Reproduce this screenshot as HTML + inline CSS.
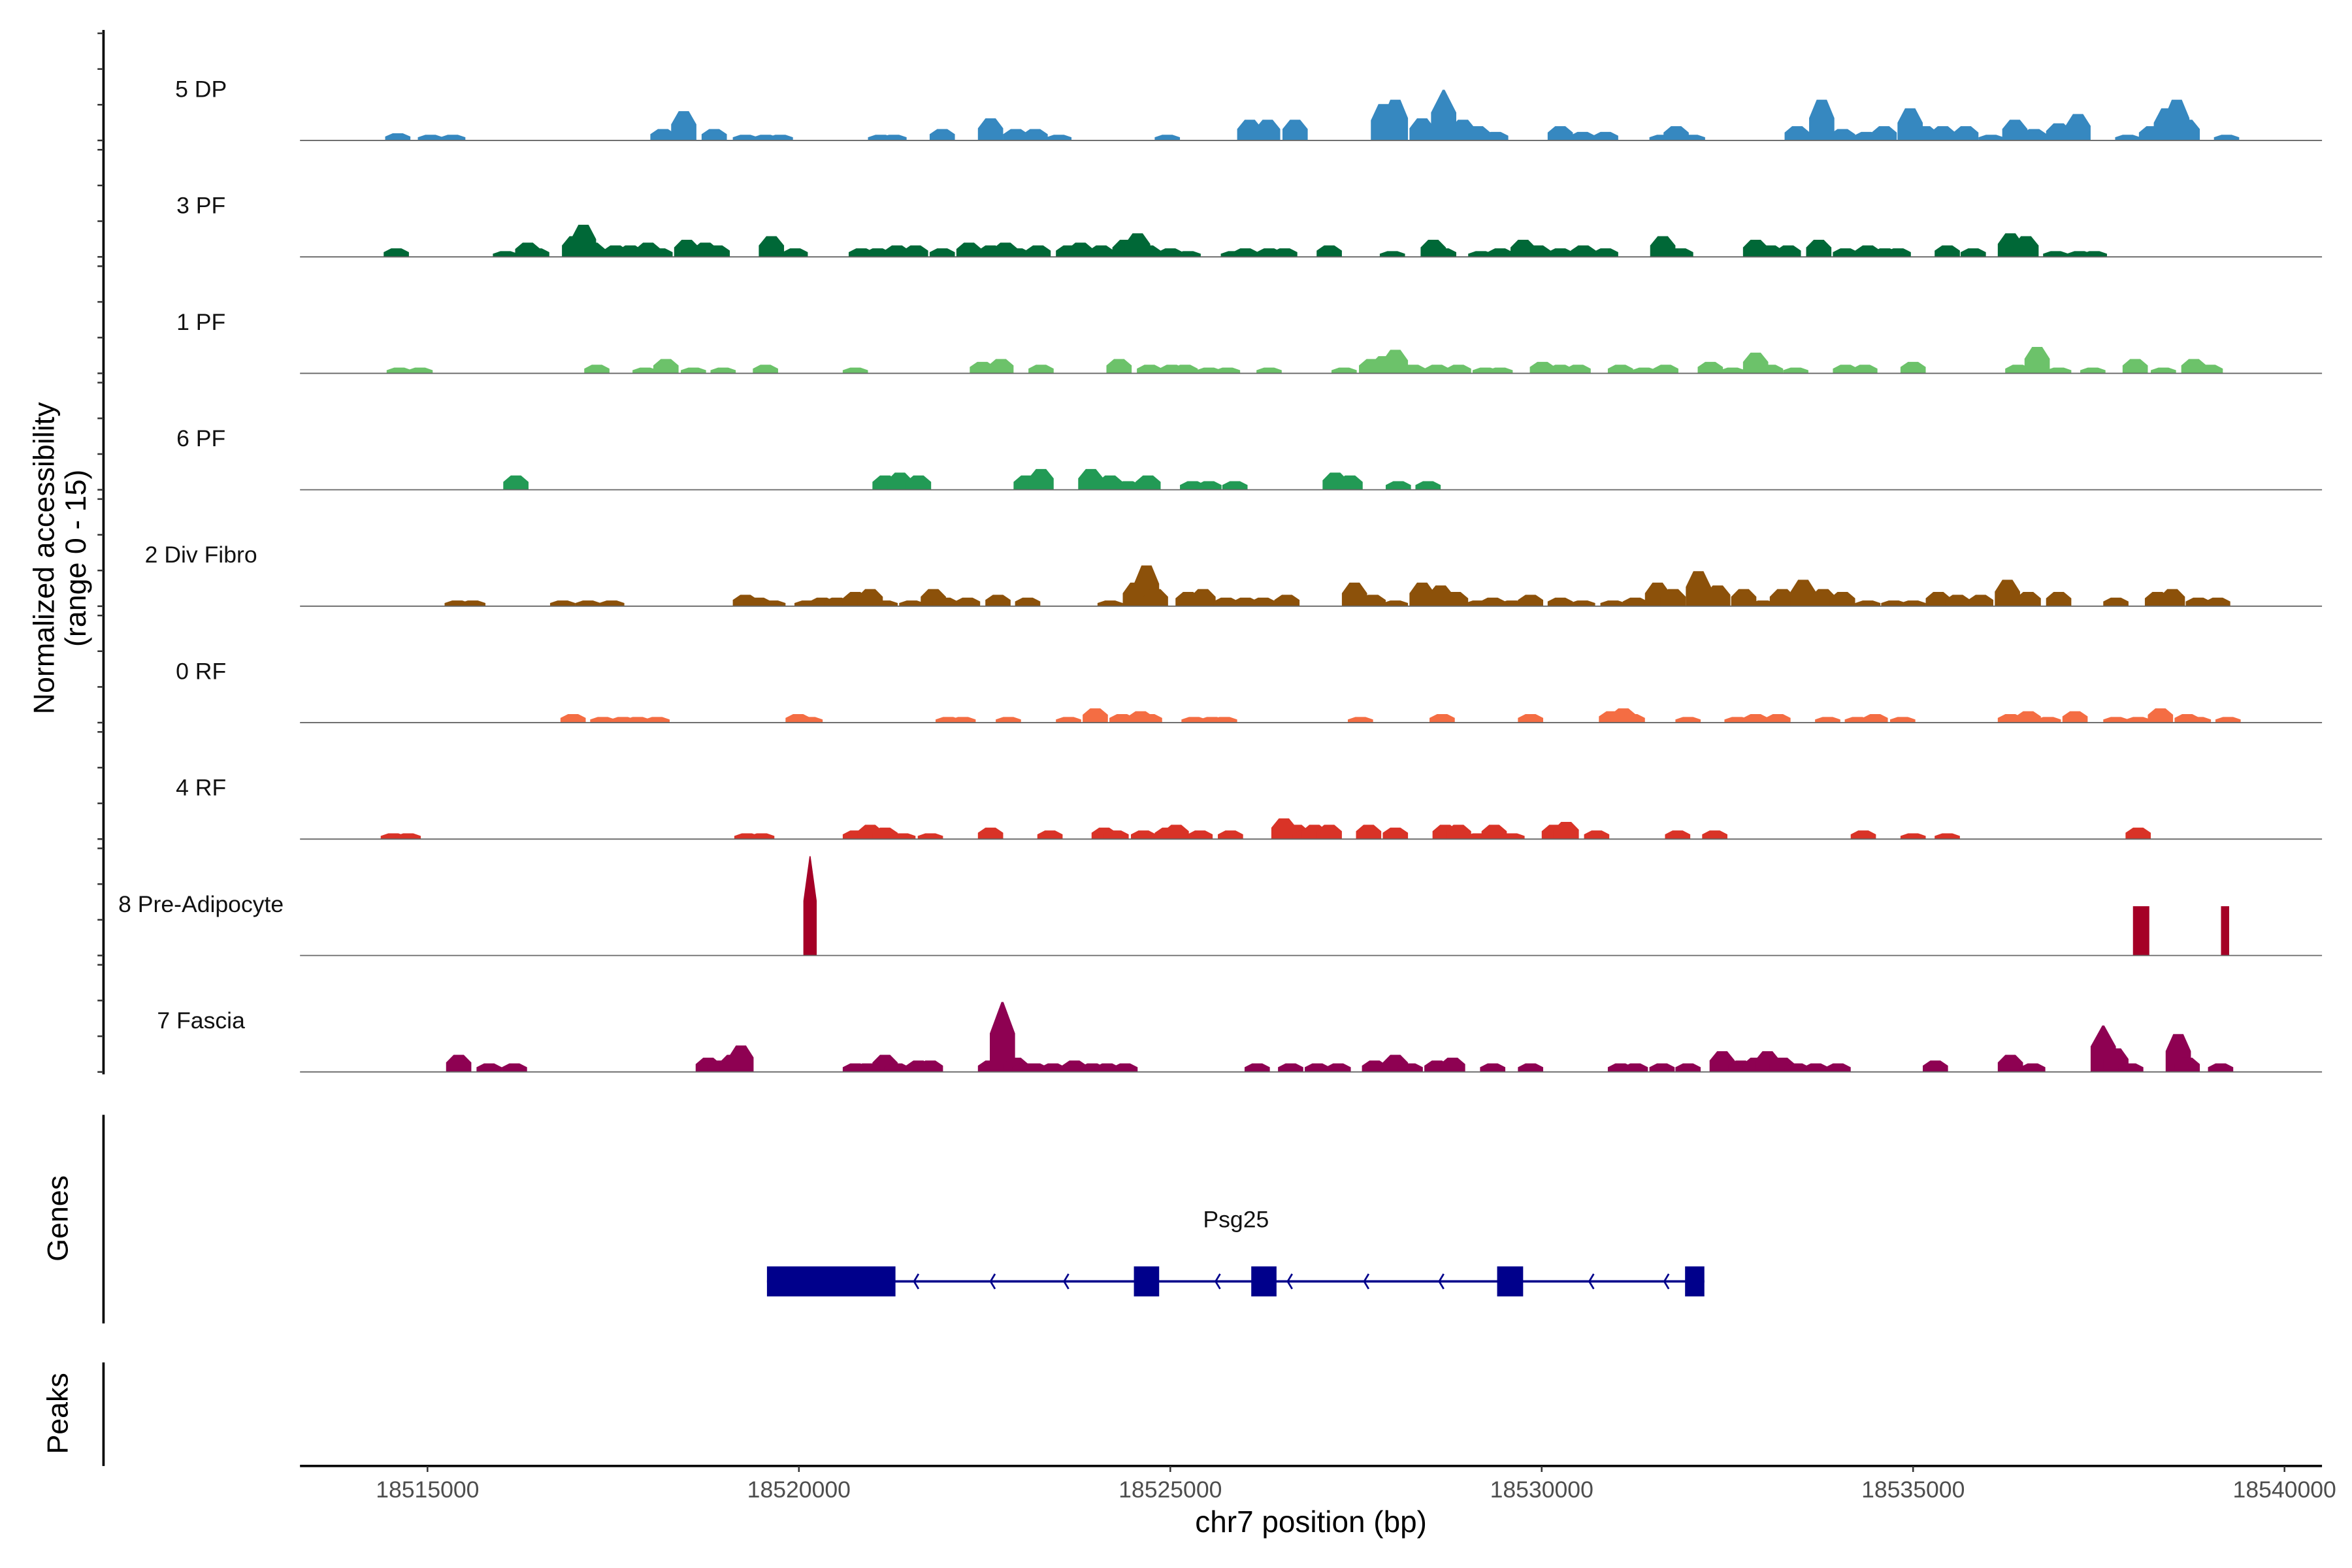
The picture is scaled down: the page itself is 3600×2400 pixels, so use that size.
<!DOCTYPE html>
<html><head><meta charset="utf-8"><style>
html,body{margin:0;padding:0;background:#fff;}
svg{display:block;font-family:"Liberation Sans",Arial,sans-serif;}
</style></head><body>
<svg id="chart" xmlns="http://www.w3.org/2000/svg" width="3600" height="2400" viewBox="0 0 1568 1045" preserveAspectRatio="none">
<g id="tracks"></g>
<g id="leftaxis"></g>
<text transform="translate(36,372) rotate(-90)" text-anchor="middle" font-size="19.5" fill="#000">Normalized accessibility</text>
<text transform="translate(57,372) rotate(-90)" text-anchor="middle" font-size="19.5" fill="#000">(range 0 - 15)</text>
<line x1="69" y1="743" x2="69" y2="882" stroke="#000" stroke-width="1.6"/>
<text transform="translate(45,812) rotate(-90)" text-anchor="middle" font-size="19.5" fill="#000">Genes</text>
<line x1="69" y1="908" x2="69" y2="977" stroke="#000" stroke-width="1.6"/>
<text transform="translate(45,942) rotate(-90)" text-anchor="middle" font-size="19.5" fill="#000">Peaks</text>
<g id="gene"></g>
<g id="xaxis"></g>
<text x="874" y="1021" text-anchor="middle" font-size="20" fill="#000">chr7 position (bp)</text>
</svg>
<script>
// peaks: [position kb from 18515000, normalized height (0-15)]
const trackNames = ["5 DP","3 PF","1 PF","6 PF","2 Div Fibro","0 RF","4 RF","8 Pre-Adipocyte","7 Fascia"];
const trackColors = ["#3688c0","#006837","#6cc26a","#229a55","#8c510a","#f46d43","#d93327","#a50026","#8e0152"];
const peaksDP = [[-0.40,1.0],[0.04,0.8],[0.34,0.8],[3.17,1.6],[3.45,4.1],[3.86,1.6],[4.28,0.8],[4.55,0.8],[4.75,0.8],[6.10,0.8],[6.28,0.8],[6.93,1.6],[7.58,3.1],[7.92,1.6],[8.18,1.6],[8.50,0.8],[9.96,0.8],[11.07,2.9],[11.31,2.9],[11.68,2.9],[12.87,5.1],[13.03,5.7],[13.39,3.1],[13.68,7.1],[13.94,2.9],[14.14,2.0],[14.38,1.2],[15.25,2.0],[15.55,1.2],[15.86,1.2],[16.62,0.8],[16.81,2.0],[17.03,0.8],[18.44,2.0],[18.77,5.7],[19.05,1.6],[19.37,1.2],[19.61,2.0],[19.96,4.5],[20.16,2.0],[20.40,2.0],[20.71,2.0],[21.05,0.8],[21.37,2.9],[21.63,1.6],[21.96,2.4],[22.22,3.7],[22.89,0.8],[23.21,2.0],[23.41,4.5],[23.55,5.7],[23.69,2.9],[24.22,0.8]];
const peaksPF3 = [[-0.42,1.2],[1.05,0.8],[1.35,2.0],[1.47,1.2],[1.98,2.9],[2.10,4.5],[2.22,2.0],[2.53,1.6],[2.73,1.6],[2.97,2.0],[3.13,1.2],[3.49,2.4],[3.74,2.0],[3.90,1.6],[4.63,2.9],[4.95,1.2],[5.84,1.2],[6.06,1.2],[6.32,1.6],[6.57,1.6],[6.93,1.2],[7.29,2.0],[7.58,1.6],[7.78,2.0],[7.94,1.2],[8.22,1.6],[8.63,1.6],[8.79,2.0],[9.07,1.6],[9.39,2.4],[9.56,3.3],[9.70,1.6],[10.00,1.2],[10.24,0.8],[10.85,0.8],[11.01,1.2],[11.33,1.2],[11.54,1.2],[12.14,1.6],[12.99,0.8],[13.54,2.4],[13.68,1.2],[14.18,0.8],[14.44,1.2],[14.75,2.4],[14.95,1.6],[15.25,1.2],[15.56,1.6],[15.86,1.2],[16.63,2.9],[16.87,1.2],[17.88,2.4],[18.08,1.6],[18.32,1.6],[18.73,2.4],[19.09,1.2],[19.39,1.6],[19.62,1.2],[19.80,1.2],[20.46,1.6],[20.81,1.2],[21.31,3.3],[21.52,2.9],[21.92,0.8],[22.24,0.8],[22.44,0.8]];
const peaksPF1 = [[-0.38,0.8],[-0.10,0.8],[2.28,1.2],[2.93,0.8],[3.21,2.0],[3.58,0.8],[3.98,0.8],[4.55,1.2],[5.76,0.8],[7.47,1.6],[7.72,2.0],[8.26,1.2],[9.31,2.0],[9.72,1.2],[10.02,1.2],[10.20,1.2],[10.52,0.8],[10.77,0.8],[11.33,0.8],[12.34,0.8],[12.71,2.0],[12.87,2.4],[13.03,3.3],[13.27,1.2],[13.59,1.2],[13.88,1.2],[14.24,0.8],[14.44,0.8],[15.01,1.6],[15.25,1.2],[15.49,1.2],[16.06,1.2],[16.38,0.8],[16.67,1.2],[17.27,1.6],[17.57,0.8],[17.88,2.9],[18.08,1.2],[18.42,0.8],[19.09,1.2],[19.35,1.2],[20.00,1.6],[21.41,1.2],[21.67,3.7],[21.96,0.8],[22.42,0.8],[22.99,2.0],[23.37,0.8],[23.78,2.0],[24.00,1.2]];
const peaksPF6 = [[1.19,2.0],[6.16,2.0],[6.36,2.4],[6.61,2.0],[8.06,2.0],[8.26,2.9],[8.93,2.9],[9.19,2.0],[9.43,1.2],[9.70,2.0],[10.30,1.2],[10.52,1.2],[10.87,1.2],[12.22,2.4],[12.42,2.0],[13.07,1.2],[13.47,1.2]];
const peaksDivFibro = [[0.40,0.8],[0.61,0.8],[1.82,0.8],[2.16,0.8],[2.48,0.8],[4.28,1.6],[4.46,1.2],[4.65,0.8],[5.11,0.8],[5.31,1.2],[5.51,1.2],[5.76,2.0],[5.96,2.4],[6.16,0.8],[6.52,0.8],[6.81,2.4],[6.97,1.2],[7.27,1.2],[7.68,1.6],[8.08,1.2],[9.19,0.8],[9.53,3.3],[9.68,5.7],[9.80,2.4],[10.24,2.0],[10.44,2.4],[10.75,1.2],[11.01,1.2],[11.25,1.2],[11.57,1.6],[12.48,3.3],[12.73,1.6],[13.03,0.8],[13.39,3.3],[13.64,2.9],[13.84,2.0],[14.14,0.8],[14.34,1.2],[14.60,0.8],[14.85,1.6],[15.25,1.2],[15.55,0.8],[15.96,0.8],[16.26,1.2],[16.56,3.3],[16.77,2.4],[17.11,4.9],[17.37,2.9],[17.72,2.4],[17.98,0.8],[18.24,2.4],[18.52,3.7],[18.79,2.4],[19.05,2.0],[19.39,0.8],[19.74,0.8],[20.00,0.8],[20.34,2.0],[20.60,1.6],[20.91,1.6],[21.27,3.7],[21.55,2.0],[21.96,2.0],[22.73,1.2],[23.29,2.0],[23.49,2.4],[23.84,1.2],[24.10,1.2]];
const peaksRF0 = [[1.96,1.2],[2.36,0.8],[2.63,0.8],[2.83,0.8],[3.09,0.8],[4.99,1.2],[5.15,0.8],[7.01,0.8],[7.21,0.8],[7.82,0.8],[8.63,0.8],[8.99,2.0],[9.35,1.2],[9.60,1.6],[9.72,1.2],[10.32,0.8],[10.56,0.8],[10.73,0.8],[12.56,0.8],[13.66,1.2],[14.85,1.2],[15.94,1.6],[16.10,2.0],[16.22,1.2],[16.97,0.8],[17.63,0.8],[17.88,1.2],[18.18,1.2],[18.85,0.8],[19.25,0.8],[19.49,1.2],[19.86,0.8],[21.31,1.2],[21.55,1.6],[21.82,0.8],[22.18,1.6],[22.73,0.8],[23.03,0.8],[23.33,2.0],[23.69,1.2],[23.84,0.8],[24.24,0.8]];
const peaksRF4 = [[-0.46,0.8],[-0.26,0.8],[4.30,0.8],[4.50,0.8],[5.76,1.2],[5.96,2.0],[6.16,1.6],[6.40,0.8],[6.77,0.8],[7.58,1.6],[8.38,1.2],[9.11,1.6],[9.27,1.2],[9.64,1.2],[9.96,1.6],[10.08,2.0],[10.40,1.2],[10.81,1.2],[11.53,2.9],[11.70,2.0],[11.82,1.2],[11.94,2.0],[12.14,2.0],[12.67,2.0],[13.03,1.6],[13.70,2.0],[13.88,2.0],[14.14,0.8],[14.36,2.0],[14.60,0.8],[15.17,2.0],[15.33,2.4],[15.74,1.2],[16.83,1.2],[17.33,1.2],[19.33,1.2],[20.00,0.8],[20.46,0.8],[23.03,1.6]];
const peaksPreAdipo = [[5.15,13.9]];
const blocksPreAdipo = [[23.07,6.9,0.22],[24.20,6.9,0.11]];
const peaksFascia = [[0.42,2.4],[0.83,1.2],[1.17,1.2],[3.78,2.0],[3.94,1.6],[4.10,2.4],[4.22,3.7],[5.76,1.2],[5.92,1.2],[6.16,2.4],[6.32,1.2],[6.61,1.6],[6.77,1.6],[7.58,1.6],[7.74,9.8],[7.92,2.0],[8.04,1.2],[8.18,1.2],[8.42,1.2],[8.71,1.6],[8.95,1.2],[9.15,1.2],[9.39,1.2],[11.17,1.2],[11.62,1.2],[11.98,1.2],[12.26,1.2],[12.75,1.6],[13.03,2.4],[13.23,1.2],[13.59,1.6],[13.80,2.0],[14.34,1.2],[14.85,1.2],[16.06,1.2],[16.26,1.2],[16.62,1.2],[16.97,1.2],[17.43,2.9],[17.68,1.6],[17.88,2.0],[18.04,2.9],[18.24,2.0],[18.44,1.2],[18.69,1.2],[18.99,1.2],[20.30,1.6],[21.31,2.4],[21.61,1.2],[22.56,6.5],[22.73,3.3],[22.93,1.2],[23.57,5.3],[23.69,2.0],[24.14,1.2]];
const trackPeaks = [peaksDP,peaksPF3,peaksPF1,peaksPF6,peaksDivFibro,peaksRF0,peaksRF4,peaksPreAdipo,peaksFascia];
// gene exons [start kb, end kb] and intron arrow positions (kb)
const geneExons = [[4.57,6.30],[9.51,9.85],[11.09,11.43],[14.40,14.75],[16.93,17.19]];
const geneArrows = [6.57,7.60,8.59,10.63,11.60,12.63,13.64,15.66,16.67];
const xTicks = [18515000,18520000,18525000,18530000,18535000,18540000];

const NS = "http://www.w3.org/2000/svg";
const X0 = 285, PXPERKB = 49.52, PLOT_L = 200, PLOT_R = 1548;
const xKb = kb => X0 + kb * PXPERKB;
const xBp = bp => X0 + (bp - 18515000) / 1000 * PXPERKB;
const BASE0 = 93.6, STEP = 77.6, UNIT = 4.76;
const yVal = (k, v) => BASE0 + k * STEP - v * UNIT;
function mk(tag, attrs, parent) { const e = document.createElementNS(NS, tag); for (const a in attrs) e.setAttribute(a, attrs[a]); parent.appendChild(e); return e; }

const tracks = document.getElementById('tracks');
trackNames.forEach((name, k) => {
  const g = mk('g', {}, tracks);
  
  
  const lbl = mk('text', {x: 134, y: BASE0 + k * STEP - 29, 'text-anchor': 'middle', 'font-size': 15.5, fill: '#111'}, g);
  lbl.textContent = name;
  
  
  const base = yVal(k, 0);
  trackPeaks[k].forEach(p => {
    const sharp = p[1] > 6;
    const c = xKb(p[0]), w = (k === 7 ? 0.18 : 0.34) * PXPERKB, top = yVal(k, p[1]);
    const x0 = c - w / 2, x1 = c + w / 2, mid = base - (base - top) * 0.55;
    const tw = sharp ? 0.04 : 0.2;
    const pts = [[x0, base], [x0, mid], [c - w * tw, top], [c + w * tw, top], [x1, mid], [x1, base]];
    const poly = mk('polygon', {points: pts.map(q => q[0].toFixed(2) + ',' + q[1].toFixed(2)).join(' '), fill: trackColors[k]}, g);
    
    
  });
  if (k === 7) {
    blocksPreAdipo.forEach(b => {
      const w = b[2] * PXPERKB;
      const r = mk('rect', {x: xKb(b[0]) - w / 2, y: yVal(k, b[1]), width: w, height: b[1] * UNIT, fill: trackColors[k]}, g);
      
      
    });
  }
  const bl = mk('line', {x1: PLOT_L, x2: PLOT_R, y1: base, y2: base, stroke: '#666', 'stroke-width': 0.8}, g);
  
  
});

const la = document.getElementById('leftaxis');
mk('line', {x1: 69, x2: 69, y1: 20, y2: 716, stroke: '#000', 'stroke-width': 1.6}, la);
for (let k = 0; k < trackNames.length; k++) {
  [0, 5, 10, 15].forEach(v => {
    const y = yVal(k, v);
    const t = mk('line', {x1: 65, x2: 69, y1: y, y2: y, stroke: '#333', 'stroke-width': 1.1}, la);
    
    
  });
}

const gene = document.getElementById('gene');
const GY = 854;
mk('line', {x1: xKb(geneExons[0][0]), x2: xKb(geneExons[geneExons.length - 1][1]), y1: GY, y2: GY, stroke: '#00008b', 'stroke-width': 1.6}, gene);
geneArrows.forEach(a => {
  const x = xKb(a);
  const ar = mk('polyline', {points: `${x + 2},${GY - 5} ${x - 1},${GY} ${x + 2},${GY + 5}`, fill: 'none', stroke: '#00008b', 'stroke-width': 1.2}, gene);
  
  
});
geneExons.forEach(e => {
  const r = mk('rect', {x: xKb(e[0]), y: GY - 10, width: xKb(e[1]) - xKb(e[0]), height: 20, fill: '#00008b'}, gene);
  
  
});
const gl = mk('text', {x: 824, y: 818, 'text-anchor': 'middle', 'font-size': 15.5, fill: '#111'}, gene);
gl.textContent = 'Psg25';



const xa = document.getElementById('xaxis');
mk('line', {x1: PLOT_L, x2: PLOT_R, y1: 977, y2: 977, stroke: '#000', 'stroke-width': 1.6}, xa);
xTicks.forEach(v => {
  const x = xBp(v);
  const t = mk('line', {x1: x, x2: x, y1: 977, y2: 981, stroke: '#333', 'stroke-width': 1.1}, xa);
  
  
  const tl = mk('text', {x: x, y: 998, 'text-anchor': 'middle', 'font-size': 15.5, fill: '#4d4d4d'}, xa);
  tl.textContent = String(v);
  
  
});
</script>
</body></html>
